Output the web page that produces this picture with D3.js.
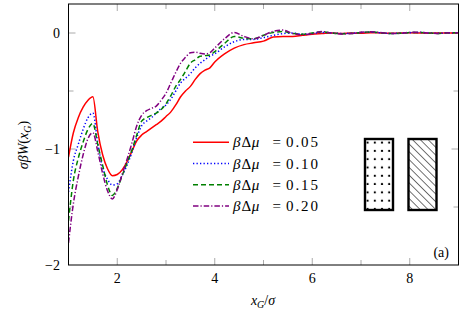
<!DOCTYPE html>
<html><head><meta charset="utf-8">
<script src="https://cdn.jsdelivr.net/npm/d3@7"></script>
<style>body{margin:0;background:#fff}svg{display:block}svg text{font-family:'Liberation Serif','Times New Roman','DejaVu Serif',serif}</style>
</head><body>
<svg id="c" width="464" height="323"></svg>
<script>
const xs = [1.0,1.1,1.2,1.3,1.4,1.5,1.6,1.7,1.8,1.9,2.0,2.1,2.2,2.3,2.4,2.5,2.6,2.7,2.8,2.9,3.0,3.1,3.2,3.3,3.4,3.5,3.6,3.7,3.8,3.9,4.0,4.2,4.4,4.6,4.8,5.0,5.2,5.4,5.6,5.8,6.0,6.2,6.4,6.6,6.8,7.0,7.2,7.4,7.6,7.8,8.0,8.2,8.4,8.6,8.8,9.0];
const w005 = [-1.07,-0.86,-0.73,-0.64,-0.58,-0.55,-0.85,-1.05,-1.17,-1.23,-1.22,-1.18,-1.11,-1.02,-0.93,-0.88,-0.85,-0.82,-0.79,-0.76,-0.72,-0.68,-0.62,-0.55,-0.50,-0.46,-0.40,-0.35,-0.32,-0.30,-0.25,-0.18,-0.13,-0.10,-0.085,-0.07,-0.035,-0.03,-0.03,-0.02,-0.01,-0.005,0,-0.005,0,-0.003,0.003,0,-0.003,0,0.002,0,-0.002,0,0.001,0];
const w010 = [-1.37,-1.10,-0.96,-0.83,-0.73,-0.69,-0.95,-1.16,-1.26,-1.31,-1.30,-1.23,-1.14,-1.03,-0.90,-0.80,-0.76,-0.73,-0.69,-0.65,-0.62,-0.57,-0.50,-0.43,-0.39,-0.35,-0.30,-0.26,-0.23,-0.20,-0.18,-0.12,-0.075,-0.055,-0.055,-0.04,-0.02,-0.005,0,-0.01,-0.005,0.005,0,-0.004,-0.002,0.004,0.006,0.002,-0.004,-0.002,0.003,0.004,0,-0.003,0.001,0.001];
const w015 = [-1.62,-1.27,-1.08,-0.94,-0.83,-0.78,-0.96,-1.14,-1.31,-1.40,-1.34,-1.23,-1.12,-1.01,-0.88,-0.76,-0.73,-0.71,-0.69,-0.66,-0.61,-0.54,-0.46,-0.40,-0.33,-0.26,-0.23,-0.20,-0.195,-0.19,-0.16,-0.09,-0.03,-0.045,-0.05,-0.02,0.005,0.012,-0.003,-0.01,0,0.01,0,-0.006,-0.004,0.005,0.008,0.003,-0.005,-0.003,0.004,0.005,0,-0.004,0.002,0.002];
const w020 = [-1.81,-1.47,-1.24,-1.05,-0.91,-0.86,-1.02,-1.21,-1.36,-1.43,-1.35,-1.22,-1.09,-0.95,-0.80,-0.71,-0.67,-0.65,-0.63,-0.58,-0.52,-0.43,-0.34,-0.26,-0.21,-0.17,-0.165,-0.175,-0.18,-0.17,-0.13,-0.05,0.005,-0.03,-0.05,-0.02,0.015,0.025,-0.005,-0.015,-0.005,0.012,0,-0.008,-0.005,0.006,0.01,0.004,-0.005,-0.003,0.005,0.006,0,-0.004,0.002,0.002];
const seriesLabels = ["0.05","0.10","0.15","0.20"];
const seriesColors = ["#ff0000","#0000ff","#008000","#800080"];
const seriesDash = [null,"1.3,2.2","5,3","5.5,2,1.2,2"];
const xTicks = [2,4,6,8];
const yTicks = [0,-1,-2];

const svg = d3.select("#c");
const L=68.5,R=458.5,T=4,B=265;
const x = d3.scaleLinear().domain([1,9]).range([L,R]);
const y = d3.scaleLinear().domain([-2,0.25]).range([B,T]);

const defs = svg.append("defs");
defs.append("clipPath").attr("id","clip").append("rect").attr("x",L).attr("y",T).attr("width",R-L).attr("height",B-T);
const dots = defs.append("pattern").attr("id","dots").attr("patternUnits","userSpaceOnUse").attr("x",364).attr("y",138).attr("width",7.2).attr("height",8.3);
dots.append("circle").attr("cx",3.6).attr("cy",4.5).attr("r",1.1).attr("fill","#000");
const hatch = defs.append("pattern").attr("id","hatch").attr("patternUnits","userSpaceOnUse").attr("width",5.5).attr("height",5.5).attr("patternTransform","rotate(-45)");
hatch.append("line").attr("x1",0).attr("y1",0).attr("x2",0).attr("y2",5.5).attr("stroke","#000").attr("stroke-width",1.1);

// ticks (inward, all sides)
const tc = "#aaa";
const g = svg.append("g");
d3.range(2,9,1).forEach(v=>{
  const len = v%2===0?7:5;
  g.append("line").attr("x1",x(v)).attr("x2",x(v)).attr("y1",B).attr("y2",B-len).attr("stroke",tc);
  g.append("line").attr("x1",x(v)).attr("x2",x(v)).attr("y1",T).attr("y2",T+len).attr("stroke",tc);
});
[-1.5,-1,-0.5,0].forEach(v=>{
  const len = Number.isInteger(v)?7:5;
  g.append("line").attr("y1",y(v)).attr("y2",y(v)).attr("x1",L).attr("x2",L+len).attr("stroke",tc);
  g.append("line").attr("y1",y(v)).attr("y2",y(v)).attr("x1",R).attr("x2",R-len).attr("stroke",tc);
});

// curves
const data = [w005,w010,w015,w020];
const line = d3.line().x((d,i)=>x(xs[i])).y(d=>y(d)).curve(d3.curveMonotoneX);
const cg = svg.append("g").attr("clip-path","url(#clip)");
data.forEach((s,k)=>{
  cg.append("path").attr("d",line(s)).attr("fill","none").attr("stroke",seriesColors[k])
    .attr("stroke-width",1.5).attr("stroke-dasharray",seriesDash[k]);
});

// frame
svg.append("rect").attr("x",L).attr("y",T).attr("width",R-L).attr("height",B-T).attr("fill","none").attr("stroke","#000").attr("stroke-width",1);

// tick labels
xTicks.forEach(v=>svg.append("text").attr("x",x(v)).attr("y",283).attr("text-anchor","middle").attr("font-size",14).text(v));
yTicks.forEach(v=>svg.append("text").attr("x",60).attr("y",y(v)+5).attr("text-anchor","end").attr("font-size",14).text(v<0?"\u2212"+(-v):v));

// axis labels
const xl = svg.append("text").attr("x",263).attr("y",305).attr("text-anchor","middle").attr("font-size",14);
xl.append("tspan").attr("font-style","italic").text("x");
xl.append("tspan").attr("font-style","italic").attr("font-size",10).attr("dy",3).text("G");
xl.append("tspan").attr("dy",-3).text("/");
xl.append("tspan").attr("font-style","italic").text("σ");
const yl = svg.append("text").attr("transform","translate(28,145) rotate(-90)").attr("text-anchor","middle").attr("font-size",14);
yl.append("tspan").attr("font-style","italic").text("σβW");
yl.append("tspan").text("(");
yl.append("tspan").attr("font-style","italic").text("x");
yl.append("tspan").attr("font-style","italic").attr("font-size",10).attr("dy",3).text("G");
yl.append("tspan").attr("dy",-3).text(")");

// legend
seriesLabels.forEach((lab,k)=>{
  const cy = 142.3 + k*21.2;
  svg.append("line").attr("x1",193).attr("x2",229).attr("y1",cy).attr("y2",cy)
    .attr("stroke",seriesColors[k]).attr("stroke-width",1.5).attr("stroke-dasharray",seriesDash[k]);
  const t = svg.append("text").attr("y",cy+5).attr("font-size",15);
  t.append("tspan").attr("x",233).attr("font-style","italic").text("β");
  t.append("tspan").attr("dx",1).text("Δ");
  t.append("tspan").attr("dx",0.5).attr("font-style","italic").text("μ");
  t.append("tspan").attr("x",272.5).text("=");
  t.append("tspan").attr("x",286).attr("textLength",32).attr("lengthAdjust","spacing").text(lab);
});

// pattern boxes
svg.append("rect").attr("x",365).attr("y",139).attr("width",28).attr("height",71).attr("fill","url(#dots)").attr("stroke","#000").attr("stroke-width",2.4);
svg.append("rect").attr("x",408.5).attr("y",139).attr("width",28).attr("height",71).attr("fill","url(#hatch)").attr("stroke","#000").attr("stroke-width",2.4);

svg.append("text").attr("x",449).attr("y",257).attr("text-anchor","end").attr("font-size",14).text("(a)");
</script>
</body></html>
